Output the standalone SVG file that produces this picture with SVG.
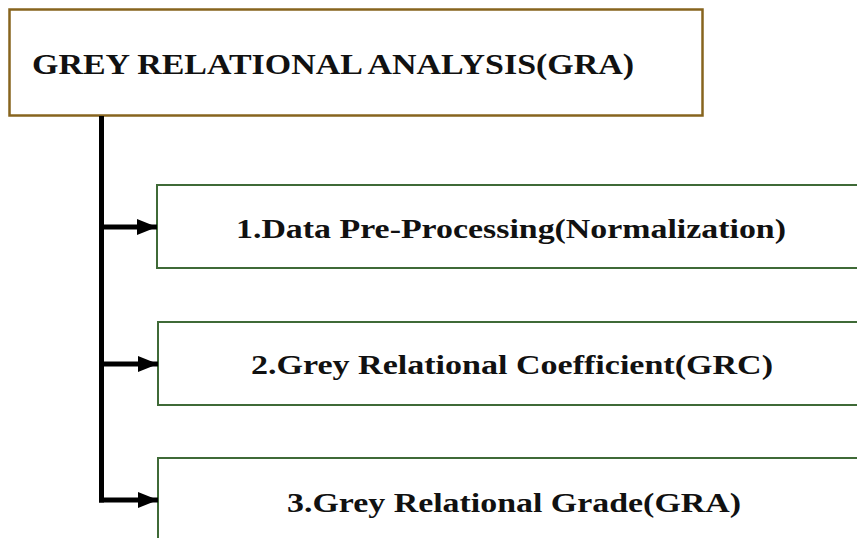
<svg xmlns="http://www.w3.org/2000/svg" width="857" height="538" viewBox="0 0 857 538">
  <defs>
    <style>
      .title { font-family: "Liberation Serif", "Times New Roman", serif; font-weight: bold; font-size: 30px; fill: #111; }
      .step { font-family: "Liberation Serif", "Times New Roman", serif; font-weight: bold; font-size: 27px; fill: #111; }
      .main { fill: #fff; stroke: #87641e; stroke-width: 2.5; }
      .box { fill: #fff; stroke: #3f6a37; stroke-width: 2; }
      .wire { fill: none; stroke: #000; stroke-width: 5; }
    </style>
    <marker id="head" markerUnits="userSpaceOnUse" markerWidth="20" markerHeight="18" refX="20" refY="9" orient="auto">
      <path d="M0,1 L20,9 L0,17 Z" fill="#000"/>
    </marker>
  </defs>
  <rect width="857" height="538" fill="#fff"/>

  <g id="gra">
    <rect class="main" x="9.5" y="9.5" width="693" height="106"/>
    <text class="title" x="32" y="74" textLength="602" lengthAdjust="spacingAndGlyphs">GREY RELATIONAL ANALYSIS(GRA)</text>
  </g>

  <g id="step1">
    <rect class="box" x="157" y="185" width="710" height="83"/>
    <text class="step" x="236" y="238" textLength="550" lengthAdjust="spacingAndGlyphs">1.Data Pre-Processing(Normalization)</text>
  </g>

  <g id="step2">
    <rect class="box" x="158" y="322" width="710" height="83"/>
    <text class="step" x="251" y="374" textLength="522" lengthAdjust="spacingAndGlyphs">2.Grey Relational Coefficient(GRC)</text>
  </g>

  <g id="step3">
    <rect class="box" x="158" y="458" width="710" height="100"/>
    <text class="step" x="287" y="512" textLength="454" lengthAdjust="spacingAndGlyphs">3.Grey Relational Grade(GRA)</text>
  </g>

  <g id="connectors">
    <path class="wire" d="M101.5,116 V502.5"/>
    <path class="wire" d="M101.5,227 H157" marker-end="url(#head)"/>
    <path class="wire" d="M101.5,364 H158" marker-end="url(#head)"/>
    <path class="wire" d="M99,500 H158" marker-end="url(#head)"/>
  </g>
</svg>
